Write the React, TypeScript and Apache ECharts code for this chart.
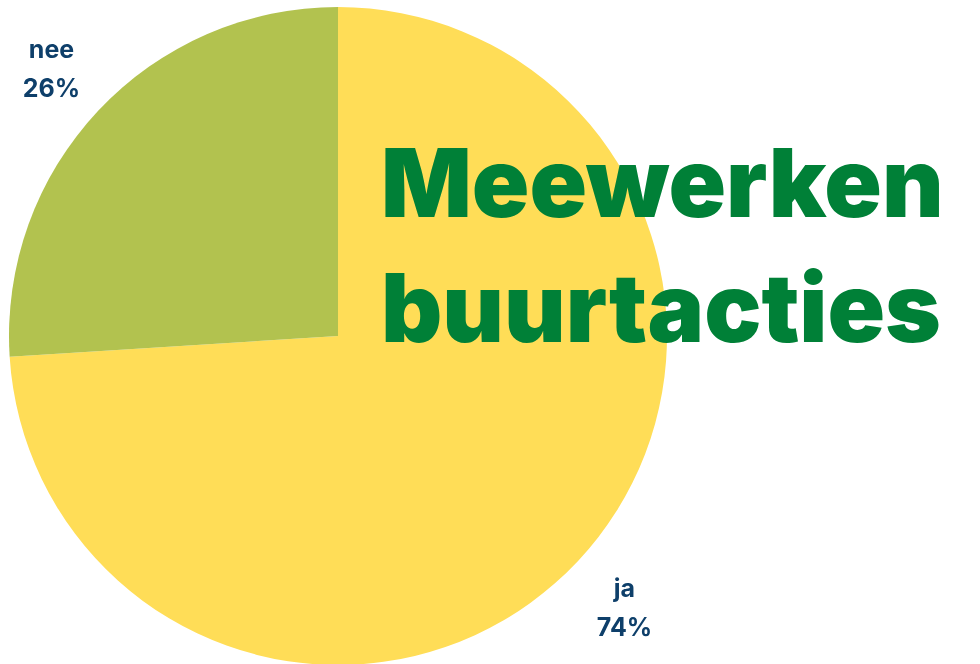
import React, { useEffect, useRef } from "react";
import * as echarts from "echarts";

const categories = ["ja", "nee"];
const values = [74, 26];
const colors = ["#FFDD57", "#B2C24F"];
const titleLines = ["Meewerken", "buurtacties"];

export default function App() {
  const ref = useRef<HTMLDivElement>(null);
  useEffect(() => {
    document.body.style.margin = "0";
    const chart = echarts.init(ref.current!, null, { renderer: "svg" });
    const data = categories.map((c, i) => ({ name: c, value: values[i] }));
    chart.setOption({
      animation: false,
      title: {
        text: titleLines.join("\n"),
        left: 376,
        top: 115,
        textStyle: {
          fontFamily: "Inter",
          fontWeight: 900,
          fontSize: 95,
          lineHeight: 125,
          color: "#008037",
        },
      },
      series: [
        {
          type: "pie",
          center: [338, 336],
          radius: [0, 329],
          startAngle: 90,
          clockwise: true,
          silent: true,
          label: { show: false },
          labelLine: { show: false },
          data: data.map((d, i) => ({ ...d, itemStyle: { color: colors[i] } })),
        },
        {
          type: "pie",
          center: [338, 338],
          radius: [0, 780],
          startAngle: 90,
          clockwise: true,
          silent: true,
          z: 1,
          itemStyle: { color: "rgba(0,0,0,0)" },
          label: {
            show: true,
            position: "inside",
            formatter: (p: any) => `${p.name}\n${p.value}%`,
            fontFamily: "Inter",
            fontWeight: 700,
            fontSize: 25,
            lineHeight: 39,
            color: "#0E3F6A",
          },
          labelLine: { show: false },
          data,
        },
      ],
    });
    return () => chart.dispose();
  }, []);
  return <div ref={ref} style={{ position: "fixed", left: 0, top: 0, width: 980, height: 664 }} />;
}
